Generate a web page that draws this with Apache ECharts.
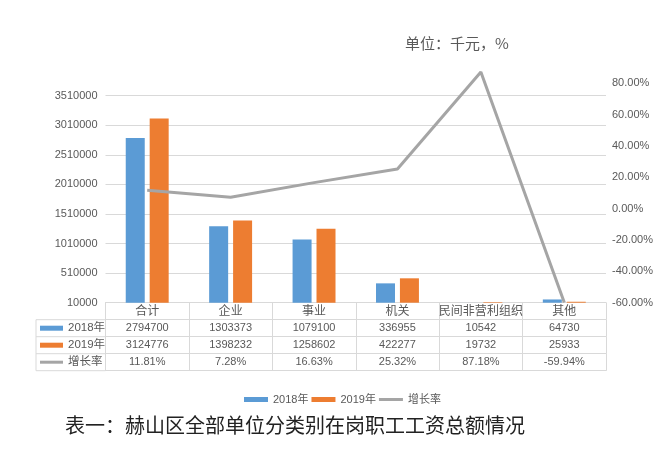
<!DOCTYPE html>
<html>
<head>
<meta charset="utf-8">
<script src="https://cdn.jsdelivr.net/npm/echarts@6/dist/echarts.min.js"></script>
<style>
html,body{margin:0;padding:0;background:#fff;}
#main{width:662px;height:461px;}
</style>
</head>
<body>
<div id="main"></div>
<script>
const categories = ['合计', '企业', '事业', '机关', '民间非营利组织', '其他'];
const values2018 = [2794700, 1303373, 1079100, 336955, 10542, 64730];
const values2019 = [3124776, 1398232, 1258602, 422277, 19732, 25933];
const growth = [11.81, 7.28, 16.63, 25.32, 87.18, -59.94];
const seriesNames = ['2018年', '2019年', '增长率'];
const unitText = '单位：千元，%';
const captionText = '表一：赫山区全部单位分类别在岗职工工资总额情况';

const BLUE = '#5b9bd5', ORANGE = '#ed7d31', GRAY = '#a5a5a5';
const BORDER = '#d9d9d9', TXT = '#595959';
const FONT = 'Liberation Sans, "Noto Sans CJK SC", sans-serif';
const ROW = 17;
const GL = 105.5, GR = 56, GB = 158.3;
const TABLE_TOP = 461 - GB;
const LINE_ICON = 'path://M0,0H0.01V0.01H0Z M0,1H24V4H0Z M0,4.99H0.01V5H0Z';

const chart = echarts.init(document.getElementById('main'), null, {renderer: 'canvas'});

function tableAxis(data, idx, show) {
  return {
    type: 'category', gridIndex: 0, position: 'bottom', offset: ROW * idx,
    data: data,
    axisLine: {show: true, lineStyle: {color: BORDER, width: 1}},
    axisTick: {show: show, alignWithLabel: false, length: ROW, lineStyle: {color: BORDER}},
    axisLabel: {show: show, interval: 0, margin: 3, fontSize: 11, color: TXT, fontFamily: FONT},
    splitLine: {show: false}
  };
}

const gx0 = 36;
const graphics = [
  {type: 'text', left: 405, top: 36, style: {text: unitText, fontSize: 15, fill: TXT, fontFamily: '"Noto Sans CJK SC", sans-serif'}},
  {type: 'text', left: 65, top: 415, style: {text: captionText, fontSize: 20, fill: '#222', fontFamily: '"Noto Sans CJK SC", sans-serif'}},
  {type: 'line', shape: {x1: gx0, y1: TABLE_TOP + ROW, x2: gx0, y2: TABLE_TOP + 4 * ROW}, style: {stroke: BORDER, lineWidth: 1}}
];
for (let i = 1; i <= 4; i++) {
  graphics.push({type: 'line', shape: {x1: gx0, y1: TABLE_TOP + i * ROW, x2: GL, y2: TABLE_TOP + i * ROW}, style: {stroke: BORDER, lineWidth: 1}});
}
const keyColors = [BLUE, ORANGE, GRAY];
for (let i = 0; i < 3; i++) {
  const cy = TABLE_TOP + (i + 1.5) * ROW;
  if (i < 2) {
    graphics.push({type: 'rect', shape: {x: 40, y: cy - 2.5, width: 23, height: 5}, style: {fill: keyColors[i]}});
  } else {
    graphics.push({type: 'line', shape: {x1: 40, y1: cy, x2: 63, y2: cy}, style: {stroke: GRAY, lineWidth: 3}});
  }
  graphics.push({type: 'text', left: 68, top: cy - 6.5, style: {text: seriesNames[i], fontSize: 11.5, fill: TXT, fontFamily: FONT}});
}

const option = {
  animation: false,
  backgroundColor: '#fff',
  grid: [
    {left: GL, right: GR, top: 95.7, bottom: GB},
    {left: GL, right: GR, top: 67.65, bottom: GB}
  ],
  legend: {
    left: 239, top: 389, itemWidth: 24, itemHeight: 5, itemGap: 3,
    textStyle: {fontSize: 11, color: TXT, fontFamily: FONT},
    data: [
      {name: seriesNames[0], icon: 'rect'},
      {name: seriesNames[1], icon: 'rect'},
      {name: seriesNames[2], icon: LINE_ICON}
    ]
  },
  xAxis: [
    Object.assign(tableAxis(categories, 0, true), {axisLabel: {show: true, interval: 0, margin: 3, fontSize: 12, color: TXT, fontFamily: FONT}}),
    tableAxis(values2018.map(String), 1, true),
    tableAxis(values2019.map(String), 2, true),
    tableAxis(growth.map(v => v.toFixed(2) + '%'), 3, true),
    tableAxis(categories.map(() => ''), 4, false),
    {type: 'category', gridIndex: 1, data: categories, show: false}
  ],
  yAxis: [
    {type: 'value', gridIndex: 0, min: 10000, max: 3510000, interval: 500000,
     axisLine: {show: false}, axisTick: {show: false},
     axisLabel: {fontSize: 11, color: TXT, fontFamily: FONT, margin: 8, formatter: v => String(v)},
     splitLine: {lineStyle: {color: BORDER, width: 1}}},
    {type: 'value', gridIndex: 1, position: 'right', min: -60, max: 90, interval: 20,
     axisLine: {show: false}, axisTick: {show: false}, splitLine: {show: false},
     axisLabel: {fontSize: 11, color: TXT, fontFamily: FONT, margin: 6, showMaxLabel: false,
                 formatter: v => v.toFixed(2) + '%'}}
  ],
  series: [
    {name: seriesNames[0], type: 'bar', xAxisIndex: 0, yAxisIndex: 0, data: values2018,
     barWidth: 19, barGap: '26%', itemStyle: {color: BLUE}},
    {name: seriesNames[1], type: 'bar', xAxisIndex: 0, yAxisIndex: 0, data: values2019,
     barWidth: 19, barGap: '26%', itemStyle: {color: ORANGE}},
    {name: seriesNames[2], type: 'line', xAxisIndex: 5, yAxisIndex: 1, data: growth,
     symbol: 'none', showSymbol: false, lineStyle: {color: GRAY, width: 3}, itemStyle: {color: GRAY}, z: 5, clip: false}
  ],
  graphic: graphics
};
chart.setOption(option);
</script>
</body>
</html>
